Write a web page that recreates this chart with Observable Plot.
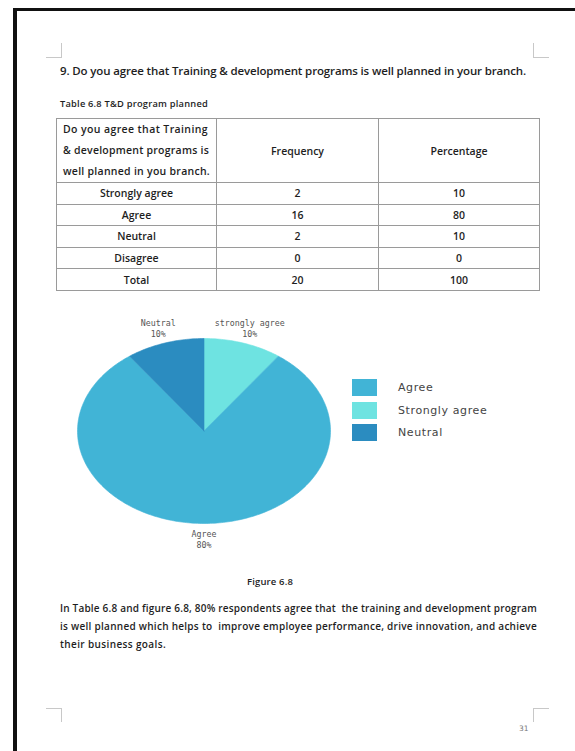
<!DOCTYPE html>
<html>
<head>
<meta charset="utf-8">
<script src="https://cdn.jsdelivr.net/npm/d3@7"></script>
<script src="https://cdn.jsdelivr.net/npm/@observablehq/plot@0.6"></script>
<style>
  html, body { margin:0; padding:0; background:#fff; }
  #page { position:relative; width:575px; height:751px; overflow:hidden; background:#fff;
          font-family: "Open Sans", Lato, sans-serif; color:#1e1e1e; }
  .abs { position:absolute; }
  .frameTop { left:13px; top:8px; width:562px; height:3px; background:#111; }
  .frameLeft { left:13px; top:8px; width:4px; height:743px; background:#111; }
  .mark { background:#c8c8c8; }
  .fit { white-space:nowrap; display:inline-block; }
  #question { left:60px; top:63px; font-size:11.5px; font-weight:600; line-height:16px; }
  #caption { left:60px; top:96px; font-size:9.3px; font-weight:600; line-height:15px; }
  table { position:absolute; left:56px; top:118px; width:483px; border-collapse:collapse; table-layout:fixed; }
  td, th { border:1px solid #9a9a9a; font-size:10.5px; font-weight:600; text-align:center; padding:0; height:20.6px; line-height:20px; }
  th { height:62px; }
  th.first { text-align:left; padding-left:6px; line-height:21px; }
  th.first > span { display:block; white-space:nowrap; }
  #figcap { left:247px; top:575px; font-size:9.5px; font-weight:600; line-height:14px; }
  #para { left:60px; top:599px; font-size:10px; font-weight:600; line-height:18px; }
  #para div { white-space:nowrap; }
  #pagenum { left:519px; top:724px; font-size:7.5px; color:#777; font-family:"DejaVu Sans", sans-serif; }
  #legend { left:352px; top:379px; font-family:"DejaVu Sans", sans-serif; font-size:11px; color:#444; letter-spacing:0.6px; }
  .lg { position:absolute; left:0; white-space:nowrap; }
  .sw { position:absolute; left:0; width:25px; height:17px; }
  .lt { position:absolute; left:46px; line-height:17px; }
  #pie { left:0; top:300px; }
</style>
</head>
<body>
<div id="page">
  <div class="abs frameTop"></div>
  <div class="abs frameLeft"></div>
  <div class="abs mark" style="left:61px;top:43px;width:1px;height:14px"></div>
  <div class="abs mark" style="left:46px;top:57px;width:16px;height:1px"></div>
  <div class="abs mark" style="left:533px;top:43px;width:1px;height:14px"></div>
  <div class="abs mark" style="left:533px;top:57px;width:16px;height:1px"></div>
  <div class="abs mark" style="left:46px;top:708px;width:16px;height:1px"></div>
  <div class="abs mark" style="left:61px;top:708px;width:1px;height:14px"></div>
  <div class="abs mark" style="left:533px;top:708px;width:16px;height:1px"></div>
  <div class="abs mark" style="left:533px;top:708px;width:1px;height:14px"></div>

  <div id="question" class="abs fit"></div>
  <div id="caption" class="abs fit"></div>
  <table id="tbl"></table>
  <div id="pie" class="abs"></div>
  <div id="legend" class="abs"></div>
  <div id="figcap" class="abs fit"></div>
  <div id="para" class="abs"></div>
  <div id="pagenum" class="abs"></div>
</div>
<script>
// ---------- data ----------
const questionText = "9. Do you agree that Training & development programs is well planned in your branch.";
const tableCaption = "Table 6.8 T&D program planned";
const headerLines = ["Do you agree that Training", "& development programs is", "well planned in you branch."];
const columnHeads = ["Frequency", "Percentage"];
const responses = ["Strongly agree", "Agree", "Neutral", "Disagree", "Total"];
const frequency = [2, 16, 2, 0, 20];
const percentage = [10, 80, 10, 0, 100];

const pieCategories = ["Strongly agree", "Agree", "Neutral"];
const pieLabelNames = ["strongly agree", "Agree", "Neutral"];
const piePercent = [10, 80, 10];
const pieColors = ["#6EE3E1", "#41B4D6", "#2B8CC0"];
const legendOrder = ["Agree", "Strongly agree", "Neutral"];

const figureCaption = "Figure 6.8";
const paragraphLines = [
  "In Table 6.8 and figure 6.8, 80% respondents agree that\u00a0 the training and development program",
  "is well planned which helps to\u00a0 improve employee performance, drive innovation, and achieve",
  "their business goals."
];
const pageNumber = "31";

// text fitting helper: adjusts letter-spacing so a line spans the target width
function fit(el, target) {
  el.style.letterSpacing = "0px";
  const w = el.getBoundingClientRect().width;
  const n = el.textContent.length;
  el.style.letterSpacing = ((target - w) / n) + "px";
}

// ---------- text & table ----------
const q = document.getElementById("question"); q.textContent = questionText; fit(q, 466);
const c = document.getElementById("caption"); c.textContent = tableCaption; fit(c, 148);
const f = document.getElementById("figcap"); f.textContent = figureCaption; fit(f, 46);
document.getElementById("pagenum").textContent = pageNumber;

const para = document.getElementById("para");
const paraWidths = [477, 477, 106];
paragraphLines.forEach((line, i) => {
  const d = document.createElement("div");
  const s = document.createElement("span");
  s.className = "fit";
  s.textContent = line;
  d.appendChild(s);
  para.appendChild(d);
  fit(s, paraWidths[i]);
});

const tbl = document.getElementById("tbl");
let html = '<colgroup><col style="width:160px"><col style="width:162px"><col style="width:161px"></colgroup>';
html += '<tr><th class="first">' + headerLines.map(s => '<span><span class="fit hl">' + s.replace("&", "&amp;") + '</span></span>').join("") +
        '</th><th>' + columnHeads[0] + '</th><th>' + columnHeads[1] + '</th></tr>';
responses.forEach((r, i) => {
  html += '<tr><td>' + r + '</td><td>' + frequency[i] + '</td><td>' + percentage[i] + '</td></tr>';
});
tbl.innerHTML = html;
const hlW = [145, 146, 147];
tbl.querySelectorAll(".hl").forEach((el, i) => fit(el, hlW[i]));

// ---------- pie (Observable Plot) ----------
const slicePts = [];
const labelPts = [];
let acc = 0;
pieCategories.forEach((cat, i) => {
  const a0 = acc / 100 * 2 * Math.PI;
  const a1 = (acc + piePercent[i]) / 100 * 2 * Math.PI;
  slicePts.push({cat, x: 0, y: 0});
  const n = Math.max(4, Math.ceil((a1 - a0) / (Math.PI / 180)));
  for (let k = 0; k <= n; k++) {
    const t = a0 + (a1 - a0) * k / n;
    slicePts.push({cat, x: Math.sin(t), y: Math.cos(t)});
  }
  slicePts.push({cat, x: 0, y: 0});
  const m = (a0 + a1) / 2;
  const r = 1.17;
  labelPts.push({x: Math.sin(m) * r, y: Math.cos(m) * r, text: pieLabelNames[i] + "\n" + piePercent[i] + "%"});
  acc += piePercent[i];
});

const chart = Plot.plot({
  width: 575,
  height: 260,
  margin: 0,
  x: {domain: [-1, 1], range: [77, 330], axis: null},
  y: {domain: [-1, 1], range: [223, 38], axis: null},
  color: {domain: pieCategories, range: pieColors},
  style: {background: "transparent", overflow: "visible"},
  marks: [
    Plot.line(slicePts, {x: "x", y: "y", z: "cat", fill: "cat", stroke: "cat", strokeWidth: 0.6, curve: "linear"}),
    Plot.text(labelPts, {x: "x", y: "y", text: "text", fontSize: 8.3, fill: "#555", lineHeight: 1.35,
      fontFamily: "DejaVu Sans Mono, monospace"})
  ]
});
document.getElementById("pie").appendChild(chart);

// ---------- legend ----------
const legend = document.getElementById("legend");
const legendTops = [0, 23, 45];
legendOrder.forEach((name, i) => {
  const row = document.createElement("div");
  row.className = "lg";
  row.style.top = legendTops[i] + "px";
  const col = pieColors[pieCategories.indexOf(name)];
  row.innerHTML = '<div class="sw" style="background:' + col + '"></div><div class="lt">' + name + '</div>';
  legend.appendChild(row);
});
</script>
</body>
</html>
